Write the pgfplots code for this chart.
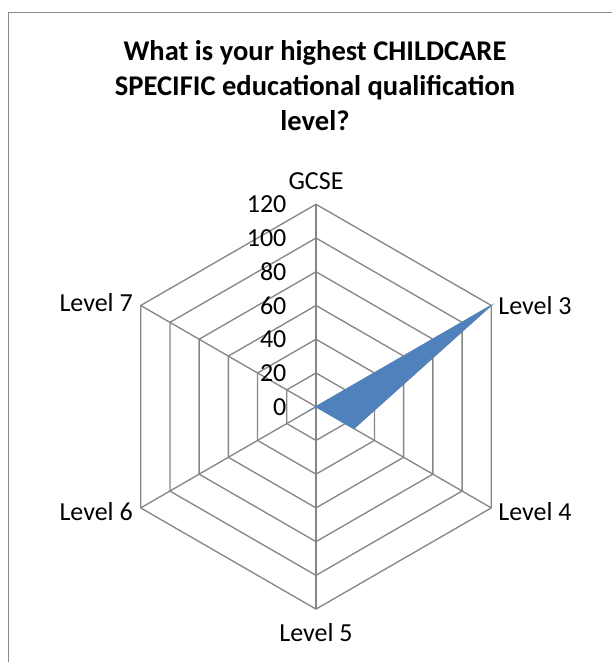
\documentclass[border=0pt]{standalone}
\usepackage{pgfplots}
\pgfplotsset{compat=1.18}
\usepackage{fontspec}
\setmainfont{Carlito}

\definecolor{gridgray}{HTML}{868686}
\definecolor{framegray}{HTML}{898989}
\definecolor{seriesblue}{HTML}{4F81BD}

% radar values: angle (deg), value
% GCSE 90, Level 3 30, Level 4 -30, Level 5 -90, Level 6 -150, Level 7 150

\tikzset{lbl/.style={font=\fontsize{19.5}{23}\selectfont, inner sep=0pt}}

\begin{document}
\begin{tikzpicture}
\begin{axis}[
  name=ax,
  x=1.265pt, y=1.265pt,
  xmin=-187.35, xmax=175.49,
  ymin=-151.36, ymax=241.12,
  hide axis,
  clip=false,
]
  % hexagonal grid
  \pgfplotsinvokeforeach{20,40,60,80,100,120}{
    \addplot[gridgray, line width=1pt, data cs=polar, forget plot]
      coordinates {(90,#1)(30,#1)(-30,#1)(-90,#1)(-150,#1)(150,#1)(90,#1)};
  }
  % spokes
  \pgfplotsinvokeforeach{90,30,-30,-90,-150,150}{
    \addplot[gridgray, line width=1pt, data cs=polar, forget plot]
      coordinates {(#1,0)(#1,120)};
  }

  % series
  \addplot[seriesblue, fill=seriesblue, line width=0.6pt, data cs=polar]
    coordinates {(90,0)(30,120)(-30,26)(-90,0)(-150,5)(150,0)(90,0)};

  % radial tick labels
  \pgfplotsinvokeforeach{0,20,40,60,80,100,120}{
    \node[lbl, anchor=east] at (axis cs:-17.4,#1) {#1};
  }

  % category labels
  \node[lbl] at (axis cs:0,134) {GCSE};
  \node[lbl, anchor=west] at (axis cs:108,60) {Level 3};
  \node[lbl, anchor=west] at (axis cs:108,-62) {Level 4};
  \node[lbl] at (axis cs:0,-134.2) {Level 5};
  \node[lbl, anchor=east] at (axis cs:-108.5,-62) {Level 6};
  \node[lbl, anchor=east] at (axis cs:-108.5,61.5) {Level 7};

  % title
  \node[align=center, font=\fontsize{21.4}{26.3}\selectfont\bfseries]
    at (axis cs:-0.6,190.5)
    {What is your highest CHILDCARE\\SPECIFIC educational qualification\\level?};

  % chart frame (cut off at right and bottom)
  \draw[framegray, line width=1.3pt]
    (axis cs:175.49,233.7) -- (axis cs:-182.3,233.7) -- (axis cs:-182.3,-151.36);
\end{axis}
\pgfresetboundingbox
\useasboundingbox (ax.south west) rectangle (ax.north east);
\end{tikzpicture}
\end{document}
